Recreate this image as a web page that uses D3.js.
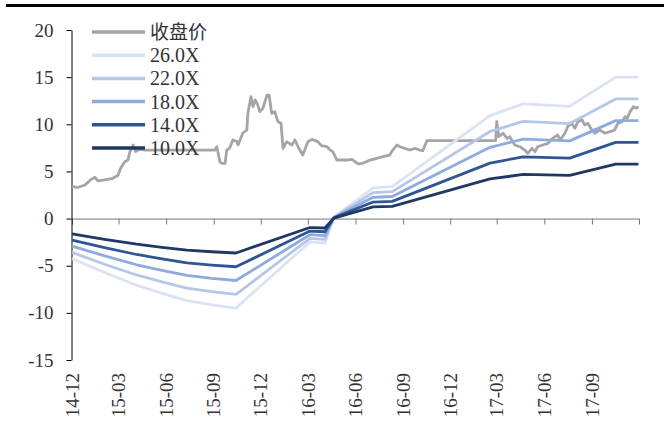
<!DOCTYPE html>
<html lang="zh">
<head>
<meta charset="utf-8">
<style>
  body { margin: 0; background: #fff; }
  svg text { font-family: "Liberation Serif", "Times New Roman", serif; fill: #333; }
  .cjk { font-family: "Noto Sans CJK SC", sans-serif; }
</style>
<script src="https://cdn.jsdelivr.net/npm/d3@7"></script>
</head>
<body>
<svg width="664" height="430"></svg>
<script>
// closing price (收盘价)
var priceDates = ["2014-12-01","2014-12-12","2014-12-26","2015-01-06","2015-01-14","2015-01-20","2015-02-02","2015-02-18",
  "2015-02-28","2015-03-05","2015-03-13","2015-03-19","2015-03-23","2015-03-29","2015-04-03","2015-04-11","2015-04-21",
  "2015-09-03","2015-09-07","2015-09-13","2015-09-17","2015-09-23","2015-09-26","2015-10-02","2015-10-08","2015-10-16",
  "2015-10-18","2015-10-27","2015-11-04","2015-11-06","2015-11-12","2015-11-16","2015-11-20","2015-11-25","2015-11-29",
  "2015-12-05","2015-12-13","2015-12-17","2015-12-22","2015-12-28","2016-01-03","2016-01-09","2016-01-13","2016-01-20",
  "2016-01-30","2016-02-05","2016-02-11","2016-02-20","2016-03-01","2016-03-09","2016-03-20","2016-03-28","2016-04-07",
  "2016-04-13","2016-04-18","2016-04-26","2016-05-02","2016-05-15","2016-05-25","2016-06-06","2016-06-15","2016-06-29",
  "2016-07-12","2016-07-24","2016-08-06","2016-08-12","2016-08-20","2016-08-26","2016-09-04","2016-09-14","2016-09-24",
  "2016-10-03","2016-10-09","2016-10-17","2017-02-27","2017-03-01","2017-03-05","2017-03-13","2017-03-21","2017-03-26",
  "2017-04-05","2017-04-15","2017-04-24","2017-04-30","2017-05-08","2017-05-14","2017-05-19","2017-05-29","2017-06-08",
  "2017-06-17","2017-06-27","2017-07-01","2017-07-11","2017-07-16","2017-07-24","2017-07-30","2017-08-05","2017-08-13",
  "2017-08-18","2017-08-24","2017-09-01","2017-09-07","2017-09-16","2017-09-26","2017-10-06","2017-10-15","2017-10-21",
  "2017-10-29","2017-11-04","2017-11-08","2017-11-14","2017-11-20","2017-11-26","2017-11-30"];
var priceValues = [3.38,3.30,3.56,4.10,4.38,4.00,4.10,4.27,
  4.60,5.33,6.03,6.20,7.10,7.80,7.10,7.35,7.27,
  7.27,7.62,6.00,5.86,5.86,7.27,7.50,8.33,8.16,
  7.80,9.05,9.40,11.17,12.93,11.87,12.58,12.05,11.34,
  11.70,13.10,13.10,11.17,11.34,10.28,10.10,7.45,8.16,
  7.80,8.33,7.62,6.74,8.16,8.40,8.16,7.70,7.62,
  7.27,7.10,6.21,6.21,6.21,6.29,5.79,5.86,6.21,
  6.39,6.56,6.74,7.27,7.80,7.62,7.45,7.27,7.45,
  7.27,7.20,8.26,8.26,10.28,8.69,9.05,8.50,8.69,
  7.80,7.62,7.27,6.92,7.45,7.10,7.62,7.80,7.98,
  8.50,8.87,8.33,9.05,9.75,10.10,9.57,10.28,10.46,
  9.93,10.10,9.40,9.05,9.40,9.05,9.22,9.40,10.10,
  10.28,10.81,10.63,11.34,11.87,11.70,11.87];

// PE band lines
var bandDates = ["2014-12-01","2015-02-02","2015-04-05","2015-05-24","2015-07-11","2015-08-28","2015-10-14","2016-03-05",
  "2016-04-03","2016-04-20","2016-07-05","2016-08-11","2017-02-16","2017-04-21","2017-07-20","2017-10-17","2017-11-30"];
var band26 = [-4.24,-5.72,-7.07,-7.93,-8.71,-9.15,-9.49,-2.47,-2.60,0.13,3.25,3.38,10.92,12.17,11.91,15.00,15.00];
var band22 = [-3.59,-4.84,-5.98,-6.71,-7.37,-7.74,-8.03,-2.09,-2.20,0.11,2.75,2.86,9.24,10.30,10.08,12.69,12.69];
var band18 = [-2.93,-3.96,-4.90,-5.49,-6.03,-6.34,-6.57,-1.71,-1.80,0.09,2.25,2.34,7.56,8.42,8.24,10.39,10.39];
var band14 = [-2.28,-3.08,-3.81,-4.27,-4.69,-4.93,-5.11,-1.33,-1.40,0.07,1.75,1.82,5.88,6.55,6.41,8.08,8.08];
var band10 = [-1.63,-2.20,-2.72,-3.05,-3.35,-3.52,-3.65,-0.95,-1.00,0.05,1.25,1.30,4.20,4.68,4.58,5.77,5.77];

var seriesNames = ["收盘价", "26.0X", "22.0X", "18.0X", "14.0X", "10.0X"];
var seriesColors = ["#a5a5a5", "#dae3f3", "#b4c7e7", "#8faadc", "#2f5597", "#1f3864"];

var xTickDates = ["2014-12-01","2015-03-01","2015-06-01","2015-09-01","2015-12-01","2016-03-01","2016-06-01",
  "2016-09-01","2016-12-01","2017-03-01","2017-06-01","2017-09-01","2017-12-01"];
var xTickLabels = ["14-12","15-03","15-06","15-09","15-12","16-03","16-06","16-09","16-12","17-03","17-06","17-09",""];
var yTicks = [-15, -10, -5, 0, 5, 10, 15, 20];

var parse = d3.timeParse("%Y-%m-%d");
var svg = d3.select("svg");

var x = d3.scaleTime()
    .domain([parse("2014-12-01"), parse("2017-12-01")])
    .range([72, 639]);
var y = d3.scaleLinear()
    .domain([-15, 20])
    .range([360, 30]);

// thick rule at the top
svg.append("line")
    .attr("x1", 6).attr("x2", 664)
    .attr("y1", 5.5).attr("y2", 5.5)
    .attr("stroke", "#000")
    .attr("stroke-width", 3);

// x axis along zero
var xAxis = svg.append("g")
    .attr("transform", "translate(0," + y(0) + ")")
    .call(d3.axisBottom(x)
        .tickValues(xTickDates.map(parse))
        .tickSize(6)
        .tickSizeOuter(0)
        .tickFormat(""));
xAxis.selectAll("path, line").attr("stroke", "#777");

// rotated date labels along the bottom
svg.append("g")
    .selectAll("text")
    .data(xTickDates)
    .enter().append("text")
    .attr("transform", function(d) { return "translate(" + x(parse(d)) + ",373) rotate(-90)"; })
    .attr("dy", "0.35em")
    .attr("font-family", "Liberation Serif")
    .style("text-anchor", "end")
    .style("font-size", "19px")
    .text(function(d, i) { return xTickLabels[i]; });

// y axis
var yAxis = svg.append("g")
    .attr("transform", "translate(71.5,0)")
    .attr("font-family", "Liberation Serif")
    .attr("font-size", 19)
    .call(d3.axisLeft(y)
        .tickValues(yTicks)
        .tickSize(5)
        .tickSizeOuter(0)
        .tickPadding(13)
        .tickFormat(function(d) { return String(d); }));
yAxis.attr("font-family", "Liberation Serif").attr("font-size", 19);
yAxis.selectAll("path, line").attr("stroke", "#000");
yAxis.selectAll("text").attr("fill", "#333");

var line = d3.line()
    .x(function(d) { return x(d[0]); })
    .y(function(d) { return y(d[1]); });

var priceData = priceDates.map(function(d, i) { return [parse(d), priceValues[i]]; });
var bands = [band26, band22, band18, band14, band10];

svg.append("path")
    .datum(priceData)
    .attr("d", line)
    .attr("fill", "none")
    .attr("stroke", seriesColors[0])
    .attr("stroke-width", 2.8)
    .attr("stroke-linejoin", "round");

bands.forEach(function(vals, k) {
    var data = bandDates.map(function(d, i) { return [parse(d), vals[i]]; });
    svg.append("path")
        .datum(data)
        .attr("d", line)
        .attr("fill", "none")
        .attr("stroke", seriesColors[k + 1])
        .attr("stroke-width", 2.8)
        .attr("stroke-linejoin", "round");
});

// legend
var legend = svg.append("g");
var item = legend.selectAll("g")
    .data(seriesNames)
    .enter().append("g")
    .attr("transform", function(d, i) { return "translate(0," + (32 + i * 23.2) + ")"; });
item.append("line")
    .attr("x1", 92).attr("x2", 145)
    .attr("stroke", function(d, i) { return seriesColors[i]; })
    .attr("stroke-width", 3.5);
item.append("text")
    .attr("x", 150)
    .attr("dy", "0.35em")
    .attr("class", function(d, i) { return i == 0 ? "cjk" : null; })
    .style("font-size", function(d, i) { return i == 0 ? "19px" : "20px"; })
    .text(function(d) { return d; });
</script>
</body>
</html>
